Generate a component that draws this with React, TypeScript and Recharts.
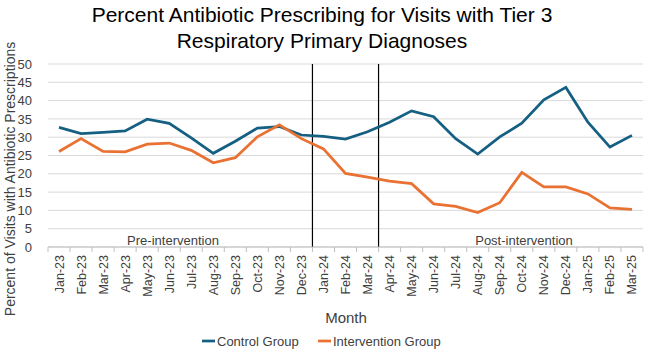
import React from "react";
import {
  LineChart,
  Line,
  XAxis,
  YAxis,
  CartesianGrid,
  ReferenceLine,
} from "recharts";

// Monthly categories, Jan 2023 through Mar 2025
const months = [
  "Jan-23", "Feb-23", "Mar-23", "Apr-23", "May-23", "Jun-23", "Jul-23",
  "Aug-23", "Sep-23", "Oct-23", "Nov-23", "Dec-23", "Jan-24", "Feb-24",
  "Mar-24", "Apr-24", "May-24", "Jun-24", "Jul-24", "Aug-24", "Sep-24",
  "Oct-24", "Nov-24", "Dec-24", "Jan-25", "Feb-25", "Mar-25",
];

// Percent of visits with antibiotic prescriptions
const controlGroup = [
  32.7, 31.0, 31.3, 31.7, 34.9, 33.8, 29.8, 25.6, 28.9, 32.5, 32.9, 30.6,
  30.2, 29.5, 31.5, 34.1, 37.2, 35.6, 29.6, 25.4, 30.1, 33.8, 40.2, 43.6,
  34.1, 27.3, 30.5,
];
const interventionGroup = [
  26.1, 29.6, 26.1, 26.0, 28.1, 28.4, 26.4, 23.0, 24.4, 30.1, 33.4, 29.6,
  26.8, 20.1, 19.1, 18.0, 17.3, 11.8, 11.1, 9.4, 12.1, 20.4, 16.4, 16.4,
  14.5, 10.7, 10.3,
];

const yTicks = [0, 5, 10, 15, 20, 25, 30, 35, 40, 45, 50];

// Phase boundaries sit between months (Dec-23 | Jan-24 and Mar-24 | Apr-24)
const phaseBoundaries = [11.5, 14.5];

const data = months.map((m, i) => ({
  idx: i,
  month: m,
  control: controlGroup[i],
  intervention: interventionGroup[i],
}));

const BLUE = "#156082";
const ORANGE = "#E97132";
const FONT = "'Liberation Sans', Arial, sans-serif";
const TEXT = "#404040";

const WIDTH = 650;
const HEIGHT = 354;
const HALF_BAND = (643 - 48) / months.length / 2;

const MonthTick = (props: any) => {
  const { x, y, payload, index } = props;
  const label = months[payload.value] ?? "";
  return (
    <g>
      <line x1={x - HALF_BAND} y1={y} x2={x - HALF_BAND} y2={y + 5} stroke="#bfbfbf" />
      {index === months.length - 1 && (
        <line x1={x + HALF_BAND} y1={y} x2={x + HALF_BAND} y2={y + 5} stroke="#bfbfbf" />
      )}
      <text
        transform={`translate(${x + 4.5},${y + 8}) rotate(-90)`}
        textAnchor="end"
        fontSize={12.5}
        fontFamily={FONT}
        fill={TEXT}
      >
        {label}
      </text>
    </g>
  );
};

export default function App() {
  return (
    <div
      style={{
        position: "absolute",
        left: 0,
        top: 0,
        width: WIDTH,
        height: HEIGHT,
        background: "#ffffff",
      }}
    >
      <LineChart
        width={WIDTH}
        height={HEIGHT}
        data={data}
        margin={{ top: 64, right: 7, left: 0, bottom: 57 }}
      >
        <CartesianGrid vertical={false} stroke="#d9d9d9" />
        <XAxis
          dataKey="idx"
          type="number"
          domain={[-0.5, months.length - 0.5]}
          ticks={months.map((_, i) => i)}
          interval={0}
          height={50}
          tickLine={false}
          tickSize={0}
          tickMargin={0}
          axisLine={{ stroke: "#bfbfbf" }}
          tick={<MonthTick />}
        />
        <YAxis
          domain={[0, 50]}
          ticks={yTicks}
          interval={0}
          width={48}
          axisLine={false}
          tickLine={false}
          tickMargin={10}
          tick={{ fontSize: 13, fontFamily: FONT, fill: TEXT }}
        />
        {phaseBoundaries.map((b) => (
          <ReferenceLine key={b} x={b} stroke="#000000" strokeWidth={1.2} />
        ))}
        <Line
          dataKey="control"
          stroke={BLUE}
          strokeWidth={2.75}
          dot={false}
          isAnimationActive={false}
        />
        <Line
          dataKey="intervention"
          stroke={ORANGE}
          strokeWidth={2.75}
          dot={false}
          isAnimationActive={false}
        />
      </LineChart>

      <svg
        width={WIDTH}
        height={HEIGHT}
        style={{ position: "absolute", left: 0, top: 0, pointerEvents: "none" }}
        fontFamily={FONT}
      >
        <text x={322} y={22} textAnchor="middle" fontSize={21} fill="#000">
          Percent Antibiotic Prescribing for Visits with Tier 3
        </text>
        <text x={322} y={48} textAnchor="middle" fontSize={21} fill="#000">
          Respiratory Primary Diagnoses
        </text>

        <text
          transform="translate(15,179) rotate(-90)"
          textAnchor="middle"
          fontSize={14}
          fill={TEXT}
        >
          Percent of Visits with Antibiotic Prescriptions
        </text>

        <text x={173} y={245} textAnchor="middle" fontSize={13} fill={TEXT}>
          Pre-intervention
        </text>
        <text x={524} y={245} textAnchor="middle" fontSize={13} fill={TEXT}>
          Post-intervention
        </text>

        <text x={346} y={323} textAnchor="middle" fontSize={15} fill={TEXT}>
          Month
        </text>

        <line x1={202} y1={341} x2={215} y2={341} stroke={BLUE} strokeWidth={2.75} />
        <text x={217} y={345.5} fontSize={13} fill={TEXT}>
          Control Group
        </text>
        <line x1={318} y1={341} x2={331} y2={341} stroke={ORANGE} strokeWidth={2.75} />
        <text x={333} y={345.5} fontSize={13} fill={TEXT}>
          Intervention Group
        </text>
      </svg>
    </div>
  );
}
